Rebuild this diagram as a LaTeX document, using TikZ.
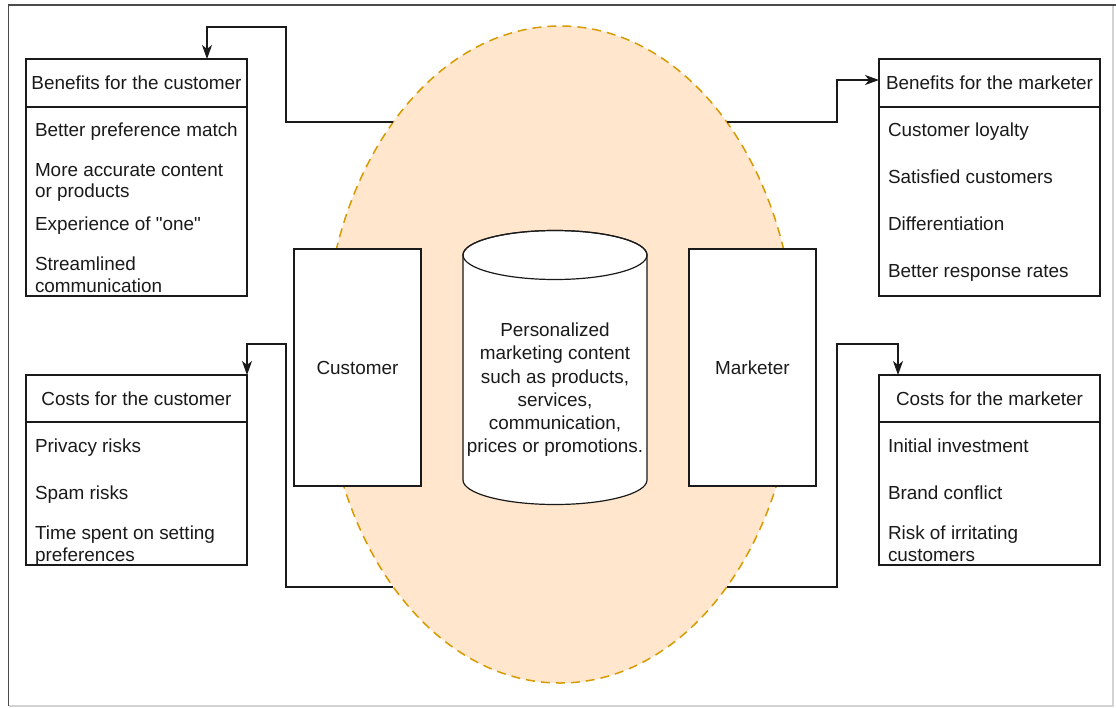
\documentclass[tikz,border=0pt]{standalone}
\usepackage{fontspec}
\setmainfont{Liberation Sans}[Ligatures=TeXOff]
\usetikzlibrary{arrows.meta,shapes.geometric}

\definecolor{zonefill}{HTML}{FFE6CC}
\definecolor{zoneline}{HTML}{D79B00}
\definecolor{ink}{HTML}{1A1A1A}
\definecolor{framedark}{HTML}{4A4A4A}
\definecolor{framelight}{HTML}{D2D2D2}

\begin{document}
\begin{tikzpicture}[x=1pt,y=1pt,
  txt/.style={font=\fontsize{18.9}{21.5}\selectfont, inner sep=0pt, outer sep=0pt, text=ink},
  item/.style={txt, anchor=north west, align=left},
  head/.style={txt, anchor=center},
  box/.style={draw=ink, line width=1.2pt, fill=white, rectangle, inner sep=0pt, outer sep=0pt},
  listbox/.style={box, minimum width=221pt},
  actor/.style={box, minimum width=127pt, minimum height=237pt},
  conn/.style={draw=ink, line width=1.2pt, -{Stealth[length=14pt,width=10pt,inset=4pt]}},
  zonestyle/.style={ellipse, draw=zoneline, fill=zonefill, line width=1.5pt,
    dash pattern=on 9pt off 6pt, inner sep=0pt, outer sep=0pt}
]
\useasboundingbox (0,0) rectangle (1116,-707);

% window frame
\draw[framelight, line width=1.2pt] (1113,-5) -- (1113,-706) -- (8.5,-706);
\draw[framedark, line width=1.5pt] (8.5,-706) -- (8.5,-5) -- (1116,-5);

% shared zone between customer and marketer
\node[zonestyle, minimum width=472pt, minimum height=657pt] (zone) at (560,-354.5) {};

% list boxes
\node[listbox, minimum height=237pt] (bc) at (136.5,-177.5) {};
\node[listbox, minimum height=237pt] (bm) at (989.5,-177.5) {};
\node[listbox, minimum height=190pt] (cc) at (136.5,-470) {};
\node[listbox, minimum height=190pt] (cm) at (989.5,-470) {};
\foreach \b/\d in {bc/48, bm/48, cc/47, cm/47}
  \draw[ink, line width=1.2pt] ([yshift=-\d pt]\b.north west) -- ([yshift=-\d pt]\b.north east);

% elbows of the connectors
\coordinate (e1) at (286,-27);
\coordinate (e2) at (837,-80);
\coordinate (e3) at (286,-344);
\coordinate (e4) at (837,-344);

\draw[conn] ([shift={(-166.7,232.5)}]zone.center) -| (e1) -| ([xshift=-40pt]bc.north east);
\draw[conn] ([shift={(166.7,232.5)}]zone.center) -| (e2) -- ([yshift=-21pt]bm.north west);
\draw[conn] ([shift={(-166.7,-232.5)}]zone.center) -| (e3) -| (cc.north east);
\draw[conn] ([shift={(166.7,-232.5)}]zone.center) -| (e4) -| ([xshift=19pt]cm.north west);

% headers
\node[head] (bch) at (136.5,-83) {Benefits for the customer};
\node[head] (bmh) at (989.5,-83) {Benefits for the marketer};
\node[head] (cch) at (136.5,-398.5) {Costs for the customer};
\node[head] (cmh) at (989.5,-398.5) {Costs for the marketer};

% customer benefits
\node[item] (bc1) at (35,-123) {Better preference match};
\node[item] (bc2) at (35,-163) {More accurate content\\or products};
\node[item] (bc3) at (35,-217) {Experience of "one"};
\node[item] (bc4) at (35,-257) {Streamlined\\communication};

% marketer benefits
\node[item] (bm1) at (888,-123) {Customer loyalty};
\node[item] (bm2) at (888,-170) {Satisfied customers};
\node[item] (bm3) at (888,-217) {Differentiation};
\node[item] (bm4) at (888,-264) {Better response rates};

% customer costs
\node[item] (cc1) at (35,-439) {Privacy risks};
\node[item] (cc2) at (35,-486) {Spam risks};
\node[item] (cc3) at (35,-526) {Time spent on setting\\preferences};

% marketer costs
\node[item] (cm1) at (888,-439) {Initial investment};
\node[item] (cm2) at (888,-486) {Brand conflict};
\node[item] (cm3) at (888,-526) {Risk of irritating\\customers};

% the two parties
\node[actor] (customer) at (357.5,-367.5) {};
\node[head] (customerlbl) at (customer.center) {Customer};
\node[actor] (marketer) at (752.5,-367.5) {};
\node[head] (marketerlbl) at (marketer.center) {Marketer};

% content store
\draw[ink, line width=1.2pt, fill=white]
  (463,-255) -- (463,-480) arc[start angle=180, end angle=360, x radius=92, y radius=24.5]
  -- (647,-255) arc[start angle=0, end angle=180, x radius=92, y radius=24.5] -- cycle;
\draw[ink, line width=1.2pt] (555,-255) ellipse[x radius=92, y radius=24.5];
\node[txt, anchor=north, align=center, font=\fontsize{18.9}{23.2}\selectfont] (content) at (555,-323)
  {Personalized\\marketing content\\such as products,\\services,\\communication,\\prices or promotions.};
\end{tikzpicture}
\end{document}
